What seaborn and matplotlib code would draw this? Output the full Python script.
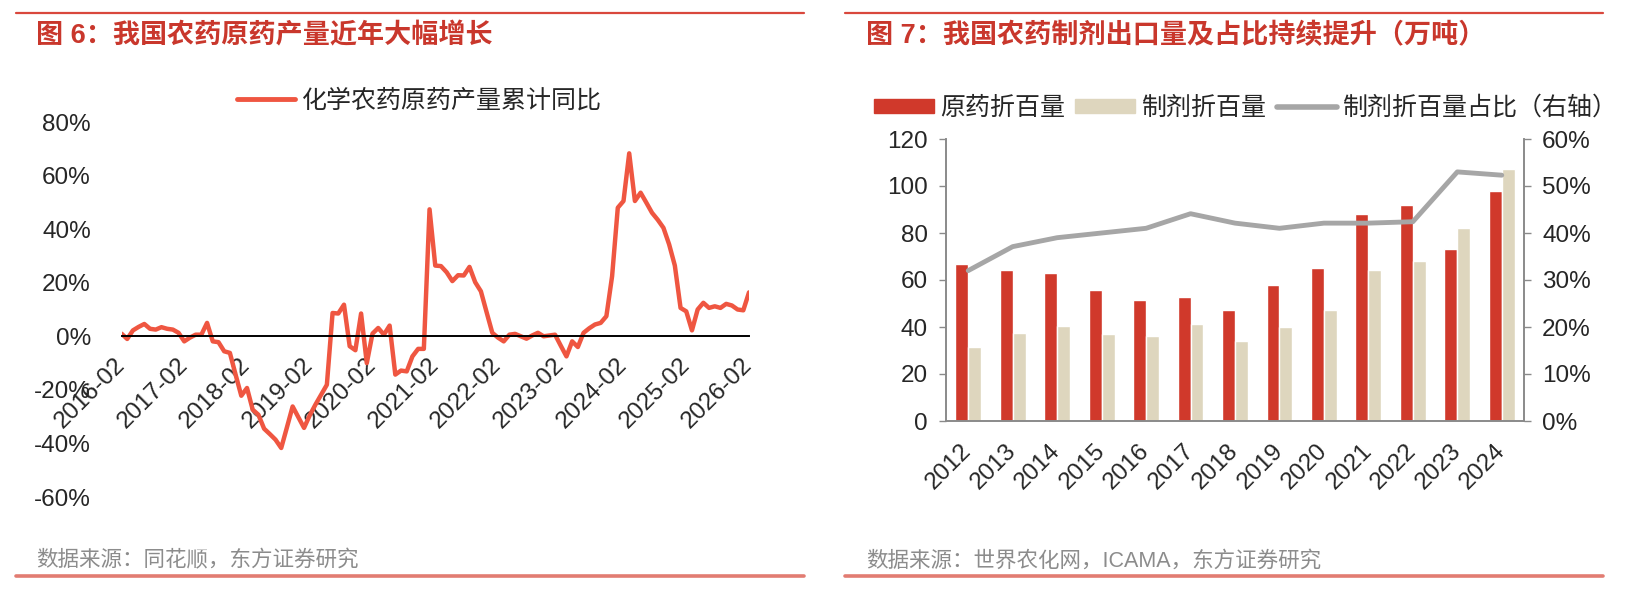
import numpy as np
import pandas as pd
import matplotlib.pyplot as plt
import seaborn as sns
from matplotlib.lines import Line2D
from matplotlib.patches import Patch
from matplotlib.ticker import FuncFormatter

# ---- 图6 data: 化学农药原药产量累计同比 (%), monthly Feb-Dec, 2016-02 .. 2026-02
yoy = [
    1.0, -1.0, 2.2, 3.5, 4.6, 2.8, 2.5, 3.4, 2.8, 2.5, 1.3,            # 2016
    -1.9, -0.5, 0.6, 0.6, 5.0, -1.9, -2.2, -5.6, -6.2, -14.3, -22.2,   # 2017
    -19.3, -27.4, -29.3, -34.5, -36.5, -38.6, -41.7, -34.0, -26.2, -30.2, -34.2,  # 2018
    -29.5, -25.5, -21.8, -18.1, 8.7, 8.5, 11.8, -3.7, -5.2, 8.5, -10.0,  # 2019
    1.0, 3.1, 0.6, 4.0, -14.3, -12.8, -13.1, -7.5, -4.7, -4.7, 47.4,   # 2020
    26.4, 26.2, 23.9, 20.6, 22.8, 22.7, 25.9, 20.2, 16.8, 9.0, 1.3,    # 2021
    -0.5, -1.9, 0.6, 0.9, 0.0, -0.9, 0.3, 1.3, 0.0, 0.3, 0.6,          # 2022
    -3.5, -7.5, -1.9, -4.0, 1.3, 3.0, 4.4, 5.0, 7.5, 22.4, 48.0,       # 2023
    50.5, 68.3, 50.5, 53.6, 49.9, 46.1, 43.5, 40.5, 34.3, 26.4, 10.6,  # 2024
    9.3, 2.2, 10.0, 12.5, 10.6, 11.2, 10.6, 12.1, 11.5, 10.0, 9.7,     # 2025
    16.4,                                                               # 2026
]
months = [f"{y}-{m:02d}" for y in range(2016, 2027) for m in range(2, 13)][:len(yoy)]
yticks_6 = [-60, -40, -20, 0, 20, 40, 60, 80]

# ---- 图7 data: 万吨 and 占比
years_7 = [str(y) for y in range(2012, 2025)]
raw_ai = [67.0, 64.1, 63.1, 55.9, 51.7, 52.8, 47.1, 57.7, 65.3, 88.0, 92.1, 73.0, 97.9]
form_ai = [31.7, 37.6, 40.3, 37.2, 36.0, 41.4, 34.2, 40.1, 47.4, 64.1, 68.0, 82.0, 107.2]
share = [32.0, 37.1, 39.0, 40.0, 41.0, 44.1, 42.1, 41.0, 42.1, 42.1, 42.4, 53.0, 52.3]

RED_LINE = '#EF5641'
RED = '#D0392B'
BEIGE = '#DED6BE'
GRAY = '#A6A6A6'
TITLE_RED = '#C9372C'
SPINE = '#8A8A8A'

sns.set_style('white')
plt.rcParams['font.family'] = ['Liberation Sans', 'Noto Sans CJK SC', 'DejaVu Sans']
plt.rcParams['axes.unicode_minus'] = False

W, H = 1626, 604
fig = plt.figure(figsize=(W / 100, H / 100), dpi=100)

def fx(px):
    return px / W

def fy(py):
    return 1 - py / H

# ---------------- 图6 ----------------
ax6 = fig.add_axes([fx(121.5), fy(497), fx(749) - fx(121.5), fy(122) - fy(497)])
x6 = np.arange(len(yoy))
sns.lineplot(x=x6, y=yoy, ax=ax6, color=RED_LINE, lw=3.2)
for s in ['top', 'right', 'left']:
    ax6.spines[s].set_visible(False)
# moving the spine resets the ticks, so do it before styling them
ax6.spines['bottom'].set_position(('data', 0))
ax6.spines['bottom'].set_color('black')
ax6.spines['bottom'].set_linewidth(1.4)
ax6.set_xlim(0, len(yoy) - 1)
ax6.set_ylim(-60, 80)
ax6.set_yticks(yticks_6)
ax6.yaxis.set_major_formatter(FuncFormatter(lambda v, p: f"{v:.0f}%"))
tick_idx = list(range(0, len(yoy), 11))
ax6.set_xticks(tick_idx)
ax6.set_xticklabels([months[i] for i in tick_idx], rotation=45, ha='right',
                    va='center', rotation_mode='anchor')
ax6.tick_params(axis='x', length=0, pad=18, labelsize=17.5)
ax6.tick_params(axis='y', length=0, pad=22, labelsize=17.5)
ax6.set_xlabel('')
ax6.set_ylabel('')
ax6.legend(handles=[Line2D([0], [0], color=RED_LINE, lw=3.5)],
           labels=['化学农药原药产量累计同比'], loc='center left',
           bbox_to_anchor=(fx(237), fy(101)), bbox_transform=fig.transFigure,
           frameon=False, fontsize=18, borderpad=0, borderaxespad=0,
           handlelength=2.3, handletextpad=0.3)

# ---------------- 图7 ----------------
ax7 = fig.add_axes([fx(946), fy(421), fx(1524) - fx(946), fy(139) - fy(421)])
df7 = pd.DataFrame({
    'year': years_7 * 2,
    'value': raw_ai + form_ai,
    'kind': ['原药折百量'] * len(years_7) + ['制剂折百量'] * len(years_7),
})
sns.barplot(data=df7, x='year', y='value', hue='kind', palette=[RED, BEIGE],
            width=0.58, gap=0, saturation=1, legend=False, ax=ax7)
ax7.set_xlim(-0.5, len(years_7) - 0.5)
ax7.set_ylim(0, 120)
ax7.set_yticks(range(0, 121, 20))
ax7.set_xticks(range(len(years_7)))
ax7.set_xticklabels(years_7, rotation=45, ha='right', va='center', rotation_mode='anchor')
ax7.set_xticks(np.arange(0.5, len(years_7) - 1, 1), minor=True)
ax7.tick_params(axis='x', which='major', length=0, pad=19, labelsize=17.5)
ax7.tick_params(axis='x', which='minor', length=5, width=1, color=SPINE, direction='out')
ax7.tick_params(axis='y', length=5, width=1, color=SPINE, direction='out', pad=8, labelsize=17.5, left=True)
ax7.set_xlabel('')
ax7.set_ylabel('')
ax7.spines['top'].set_visible(False)
for s in ['left', 'right', 'bottom']:
    ax7.spines[s].set_color(SPINE)
    ax7.spines[s].set_linewidth(1.2)

ax7r = ax7.twinx()
sns.lineplot(x=np.arange(len(years_7)), y=[v / 100 for v in share], ax=ax7r, color=GRAY, lw=3.5)
ax7r.set_ylim(0, 0.6)
ax7r.set_yticks(np.arange(0, 0.61, 0.1))
ax7r.yaxis.set_major_formatter(FuncFormatter(lambda v, p: f"{v * 100:.0f}%"))
ax7r.tick_params(axis='y', length=5, width=1, color=SPINE, direction='out', pad=8, labelsize=17.5, right=True)
ax7r.set_ylabel('')
ax7r.spines['top'].set_visible(False)
for s in ['left', 'right', 'bottom']:
    ax7r.spines[s].set_color(SPINE)
    ax7r.spines[s].set_linewidth(1.2)

ax7.legend(handles=[Patch(color=RED), Patch(color=BEIGE), Line2D([0], [0], color=GRAY, lw=4)],
           labels=['原药折百量', '制剂折百量', '制剂折百量占比（右轴）'], ncol=3,
           loc='center left', bbox_to_anchor=(fx(874), fy(108)), bbox_transform=fig.transFigure,
           frameon=False, fontsize=18, borderpad=0, borderaxespad=0,
           handlelength=2.4, handleheight=0.5, handletextpad=0.25, columnspacing=0.4)

# ---------------- frame: titles, lines, sources ----------------
for x0, x1 in [(15.5, 804), (845, 1603)]:
    fig.add_artist(Line2D([fx(x0), fx(x1)], [fy(13), fy(13)], color='#D9473C', lw=1.6))
    fig.add_artist(Line2D([fx(x0), fx(x1)], [fy(576), fy(576)], color='#E27C72', lw=2.6))

fig.text(fx(36), fy(36), '图 6：我国农药原药产量近年大幅增长', color=TITLE_RED,
         fontsize=19.5, fontweight='bold', va='center', ha='left')
fig.text(fx(866), fy(36), '图 7：我国农药制剂出口量及占比持续提升（万吨）', color=TITLE_RED,
         fontsize=19.5, fontweight='bold', va='center', ha='left')
fig.text(fx(36), fy(561), '数据来源：同花顺，东方证券研究', color='#8C8C8C',
         fontsize=15.5, va='center', ha='left')
fig.text(fx(866), fy(561), '数据来源：世界农化网，ICAMA，东方证券研究', color='#8C8C8C',
         fontsize=15.5, va='center', ha='left')

fig.savefig('out.png', dpi=100)
